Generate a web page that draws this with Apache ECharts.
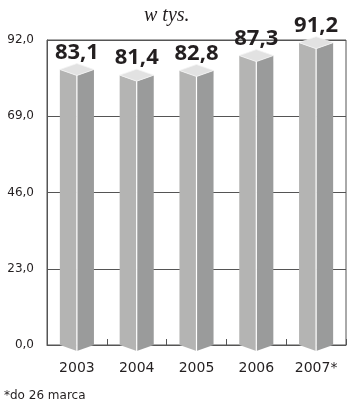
<!DOCTYPE html>
<html>
<head>
<meta charset="utf-8">
<script src="https://cdn.jsdelivr.net/npm/echarts@6/dist/echarts.min.js"></script>
<style>
  html, body { margin: 0; padding: 0; background: #fff; }
  #chart { width: 350px; height: 405px; }
</style>
</head>
<body>
<div id="chart"></div>
<script>
// Yearly totals, in thousands
const years = ['2003', '2004', '2005', '2006', '2007*'];
const totals = [83.1, 81.4, 82.8, 87.3, 91.2];
const yMin = 0;
const yMax = 92;
const yStep = 23;

const fmt = v => v.toFixed(1).replace('.', ',');

// Draws each column as a small box: lit left face, shaded right face, pale top
function renderBox(params, api) {
  const idx = api.value(0);
  const val = api.value(1);
  const top = api.coord([idx, val]);
  const base = api.coord([idx, 0]);
  const cx = top[0];
  const yv = top[1];
  const y0 = base[1];
  const half = api.size([1, 0])[0] * 0.285;
  const xl = cx - half, xr = cx + half;
  const d = 6;
  return {
    type: 'group',
    children: [
      {
        type: 'polygon',
        shape: { points: [[xl, yv], [cx, yv + d], [cx, y0 + d], [xl, y0]] },
        style: { fill: '#b4b4b3' }
      },
      {
        type: 'polygon',
        shape: { points: [[cx, yv + d], [xr, yv], [xr, y0], [cx, y0 + d]] },
        style: { fill: '#9a9b9b' }
      },
      {
        type: 'polygon',
        shape: { points: [[xl, yv], [cx, yv - d], [xr, yv], [cx, yv + d]] },
        style: { fill: '#e2e2e2', stroke: '#f4f4f4', lineWidth: 0.8 }
      },
      {
        type: 'line',
        shape: { x1: cx, y1: yv + d, x2: cx, y2: y0 + d },
        style: { stroke: '#ffffff', lineWidth: 1.2 }
      },
      {
        type: 'text',
        style: {
          x: cx,
          y: yv - 17,
          text: fmt(val),
          align: 'center',
          verticalAlign: 'middle',
          fill: '#231f20',
          font: 'bold 22px "Open Sans", sans-serif'
        }
      }
    ]
  };
}

const chart = echarts.init(document.getElementById('chart'));
chart.setOption({
  animation: false,
  backgroundColor: '#ffffff',
  title: {
    text: 'w tys.',
    left: 139,
    top: 1,
    textStyle: {
      fontFamily: '"Liberation Serif", serif',
      fontStyle: 'italic',
      fontWeight: 'normal',
      fontSize: 20,
      color: '#231f20'
    }
  },
  grid: {
    left: 47,
    right: 4,
    top: 40,
    bottom: 60,
    show: true,
    borderColor: '#555555',
    borderWidth: 1,
    backgroundColor: 'transparent'
  },
  xAxis: {
    type: 'category',
    data: years,
    axisLine: { show: true, lineStyle: { color: '#555555', width: 1 } },
    axisTick: { show: true, inside: true, length: 6, interval: 0, lineStyle: { color: '#555555' } },
    axisLabel: {
      margin: 16,
      fontFamily: '"DejaVu Sans", sans-serif',
      fontSize: 14,
      color: '#231f20'
    }
  },
  yAxis: {
    type: 'value',
    min: yMin,
    max: yMax,
    interval: yStep,
    axisLine: { show: true, lineStyle: { color: '#555555' } },
    axisTick: { show: false },
    splitLine: { show: true, lineStyle: { color: '#555555', width: 1 } },
    axisLabel: {
      margin: 13,
      fontFamily: '"DejaVu Sans", sans-serif',
      fontSize: 12,
      color: '#231f20',
      formatter: v => fmt(v)
    }
  },
  graphic: [
    {
      type: 'text',
      left: 4,
      top: 390,
      style: {
        text: '*do 26 marca',
        fill: '#231f20',
        font: '12px "DejaVu Sans", sans-serif'
      }
    }
  ],
  series: [
    {
      type: 'custom',
      renderItem: renderBox,
      clip: false,
      z: 5,
      data: totals.map((v, i) => [i, v])
    }
  ]
});
</script>
</body>
</html>
